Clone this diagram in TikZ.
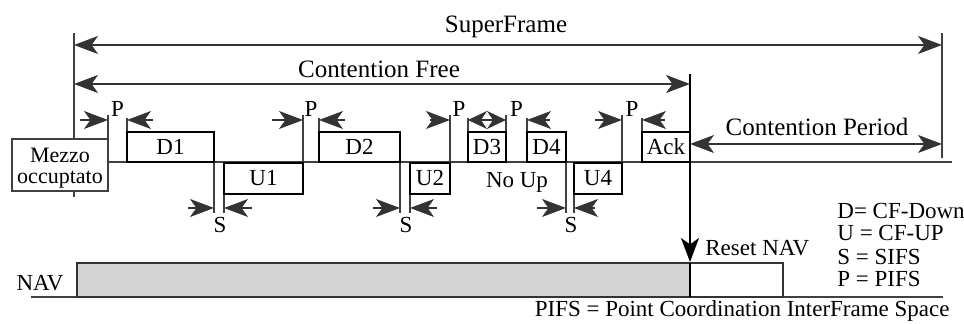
\documentclass[tikz,border=0pt]{standalone}
\usepackage{fontspec}
\setmainfont{Liberation Serif}
\usetikzlibrary{arrows.meta}
\newcommand\tbox[7]{\node[#7, minimum width={(#4-#2)*0.5pt}, minimum height={(#5-#3)*0.5pt}] (#1) at ({(#2+#4)/2},{(#3+#5)/2}) {#6};}
\begin{document}
\begin{tikzpicture}[x=0.5pt,y=-0.5pt,
  tip/.tip={Stealth[length=12pt,width=9pt,inset=3.2pt]},
  ln/.style={line width=0.55pt, draw=black!75},
  bx/.style={draw=black, line width=1.1pt, fill=white, inner sep=0pt, font=\fontsize{11.5}{12}\selectfont},
  thinbx/.style={draw=black!75, line width=0.55pt, fill=white, inner sep=0pt},
  arr/.style={line width=0.55pt, draw=black!80, -tip},
  darr/.style={line width=0.55pt, draw=black!80, tip-tip},
  lbl/.style={font=\fontsize{11.5}{12}\selectfont, inner sep=0pt, anchor=base},
  big/.style={font=\fontsize{12.5}{13}\selectfont, inner sep=0pt, anchor=base}]
\useasboundingbox (0,0) rectangle (964,324);
% frame lines
\draw[ln] (74,33) -- (74,197);
\draw[ln] (942,33) -- (942,158);
\draw[ln] (108,162) -- (952,162);
% PIFS markers
\draw[ln] (108,115) -- (108,162);
\draw[ln] (127,118) -- (127,132);
\draw[ln] (303,115) -- (303,163);
\draw[ln] (319,118) -- (319,132);
\draw[ln] (450,115) -- (450,163);
\draw[ln] (468,118) -- (468,132);
\draw[ln] (506,115) -- (506,132);
\draw[ln] (527,118) -- (527,132);
\draw[ln] (622,115) -- (622,163);
\draw[ln] (642,118) -- (642,132);
% SIFS markers
\draw[ln] (214,162) -- (214,213);
\draw[ln] (224,163) -- (224,213);
\draw[ln] (400,162) -- (400,213);
\draw[ln] (410,163) -- (410,213);
\draw[ln] (566,162) -- (566,213);
\draw[ln] (574,163) -- (574,213);
% boxes
\tbox{mezzo}{12}{139}{108}{191}{}{thinbx}
\node[lbl, font=\fontsize{11}{11}\selectfont] (mz1) at (60,163) {Mezzo};
\node[lbl, font=\fontsize{11}{11}\selectfont] (mz2) at (60,184) {occuptato};
\tbox{d1}{127}{132}{214}{162}{D1}{bx}
\tbox{u1}{224}{163}{303}{194}{U1}{bx}
\tbox{d2}{319}{132}{400}{162}{D2}{bx}
\tbox{u2}{410}{163}{450}{194}{U2}{bx}
\tbox{d3}{468}{132}{506}{162}{D3}{bx}
\tbox{d4}{527}{132}{566}{162}{D4}{bx}
\tbox{u4}{574}{163}{622}{194}{U4}{bx}
\tbox{ack}{642}{132}{690}{162}{Ack}{bx}
\node[lbl] (noup) at (517,188) {No Up};
% P arrows
\draw[arr] (80,120) -- (108,120);
\draw[arr] (153,120) -- (127,120);
\draw[arr] (272,120) -- (303,120);
\draw[arr] (345,120) -- (319,120);
\draw[arr] (430,120) -- (450,120);
\draw[line width=0.55pt, draw=black!80, {Stealth[length=9.5pt,width=9pt,inset=3pt]}-{Stealth[length=9.5pt,width=9pt,inset=3pt]}] (468,120) -- (506,120);
\draw[arr] (550,120) -- (527,120);
\draw[arr] (595,120) -- (622,120);
\draw[arr] (665,120) -- (642,120);
\foreach \x/\n in {117.5/p1,311/p2,459/p3,516.5/p4,632/p5}
  \node[lbl] (\n) at (\x,117) {P};
% S arrows
\draw[arr] (188,208) -- (214,208);
\draw[arr] (252,208) -- (224,208);
\draw[arr] (373,208) -- (400,208);
\draw[arr] (437,208) -- (410,208);
\draw[arr] (537,208) -- (566,208);
\draw[arr] (595,208) -- (574,208);
\foreach \x/\n in {220/s1,406/s2,571/s3}
  \node[lbl] (\n) at (\x,233) {S};
% spans
\draw[darr] (74,45) -- (942,45);
\node[big] (sf) at (506,33) {SuperFrame};
\draw[darr] (74,84) -- (690,84);
\node[big] (cf) at (379,78) {Contention Free};
\draw[darr] (690,144) -- (942,144);
\node[big] (cp) at (817,136) {Contention Period};
% NAV
\draw[ln] (31,297) -- (943,297);
\tbox{nav}{77}{263}{690}{297}{}{draw=black!80, line width=0.6pt, fill=black!17, inner sep=0pt}
\tbox{rnav}{690}{263}{783}{297}{}{draw=black!80, line width=0.6pt, fill=white, inner sep=0pt}
\draw[line width=1pt, black] (690,263) -- (690,297);
\draw[line width=0.6pt, draw=black, -tip] (690,74) -- (690,262);
\node[lbl] (navl) at (40,291) {NAV};
\node[lbl, anchor=base west] (reset) at (705,256) {Reset NAV};
% legend
\node[lbl, anchor=base west] (lg1) at (837,219) {D= CF-Down};
\node[lbl, anchor=base west] (lg2) at (837,241) {U = CF-UP};
\node[lbl, anchor=base west] (lg3) at (837,265) {S = SIFS};
\node[lbl, anchor=base west] (lg4) at (837,287) {P = PIFS};
\node[lbl, anchor=base east] (pifs) at (950,317) {PIFS = Point Coordination InterFrame Space};
\end{tikzpicture}
\end{document}
